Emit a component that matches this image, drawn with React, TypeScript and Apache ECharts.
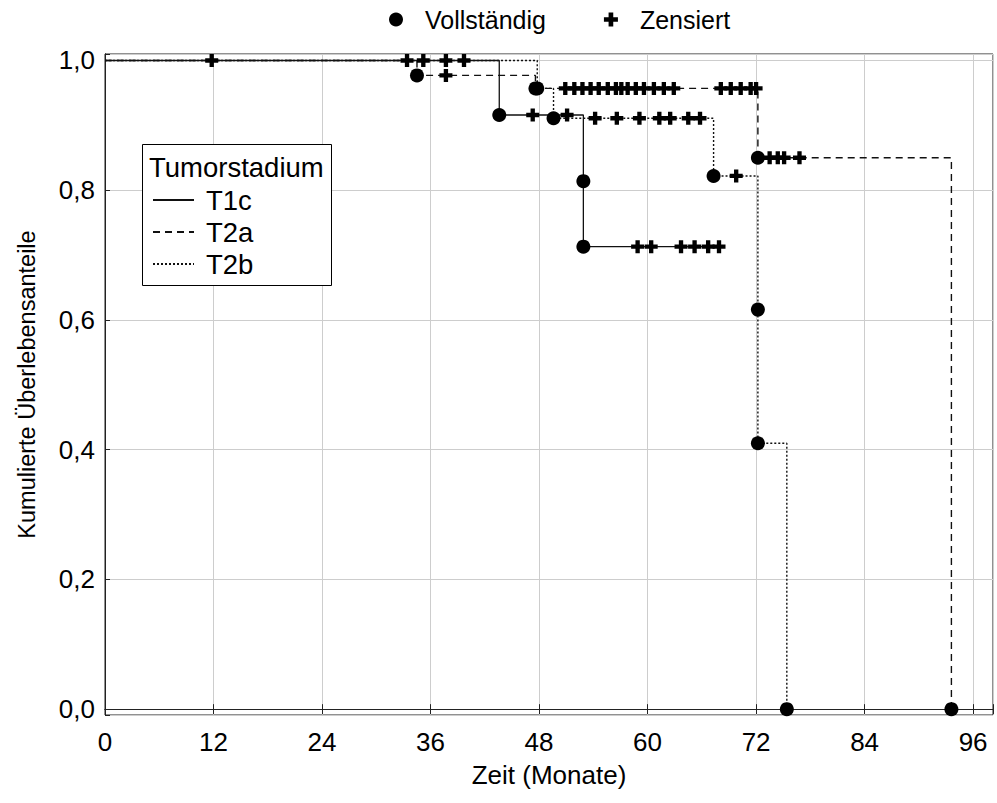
import React, { useEffect, useRef } from 'react';
import * as echarts from 'echarts';

// ---- Axis ticks ----
const xTicks = [0, 12, 24, 36, 48, 60, 72, 84, 96];
const xTickLabels = ['0', '12', '24', '36', '48', '60', '72', '84', '96'];
const yTicks = [0, 0.2, 0.4, 0.6, 0.8, 1.0];
const yTickLabels = ['0,0', '0,2', '0,4', '0,6', '0,8', '1,0'];

// ---- Groups ----
const groups = ['T1c', 'T2a', 'T2b'];
const legendTitle = 'Tumorstadium';
const markerNames = ['Vollständig', 'Zensiert'];

// ---- T1c (solid) ----
const t1cEventTimes = [43.6, 52.9, 52.9];
const t1cEventSurv = [0.916, 0.814, 0.713];
const t1cCensorTimes = [11.8, 33.4, 37.7, 47.3, 51.1, 58.9, 60.4, 63.7, 65.2, 66.7, 67.9];

// ---- T2a (dashed) ----
const t2aEventTimes = [34.5, 47.6, 72.2, 93.6];
const t2aEventSurv = [0.977, 0.957, 0.85, 0.0];
const t2aCensorTimes = [37.7, 50.9, 51.9, 52.8, 53.7, 54.6, 55.6, 56.5, 57.1, 57.8, 58.7, 59.6, 60.7, 61.8, 62.9, 68.1, 69.2, 70.3, 71.4, 72.0, 73.5, 74.4, 75.1, 76.8];

// ---- T2b (dotted) ----
const t2bEventTimes = [47.8, 49.6, 67.3, 72.2, 72.2, 75.4];
const t2bEventSurv = [0.957, 0.911, 0.822, 0.616, 0.41, 0.0];
const t2bCensorTimes = [35.2, 39.7, 54.2, 56.6, 59.1, 61.3, 62.5, 64.5, 65.8, 69.8];

const FONT = "'Liberation Sans', Arial, Helvetica, sans-serif";
const PLUS = 'path://M4,0H8V4H12V8H8V12H4V8H0V4H4Z';

function survAt(times: number[], surv: number[], t: number) {
  let s = 1;
  for (let i = 0; i < times.length; i++) if (times[i] <= t) s = surv[i];
  return s;
}

function stepData(times: number[], surv: number[], censor: number[]) {
  const d: number[][] = [[0, 1]];
  times.forEach((t, i) => d.push([t, surv[i]]));
  const lastC = Math.max(...censor);
  const lastE = times[times.length - 1];
  if (lastC > lastE) d.push([lastC, surv[surv.length - 1]]);
  return d;
}

function labelFor(ticks: number[], labels: string[], v: number) {
  for (let i = 0; i < ticks.length; i++) if (Math.abs(ticks[i] - v) < 1e-6) return labels[i];
  return '';
}

export default function App() {
  const ref = useRef<HTMLDivElement>(null);
  useEffect(() => {
    if (!ref.current) return;
    const chart = echarts.init(ref.current, null, { renderer: 'svg' });

    const data = [
      { name: 'T1c', times: t1cEventTimes, surv: t1cEventSurv, cens: t1cCensorTimes, line: { type: 'solid' as any, width: 1.3 } },
      { name: 'T2a', times: t2aEventTimes, surv: t2aEventSurv, cens: t2aCensorTimes, line: { type: [7, 5] as any, width: 1.4 } },
      { name: 'T2b', times: t2bEventTimes, surv: t2bEventSurv, cens: t2bCensorTimes, line: { type: [2, 2] as any, width: 1.4 } },
    ];

    const lineSeries = [...data].reverse().map((g) => ({
      type: 'line',
      name: g.name,
      step: 'end',
      symbol: 'none',
      showSymbol: false,
      silent: true,
      z: 2,
      lineStyle: { color: '#111', width: g.line.width, type: g.line.type },
      itemStyle: { color: '#111' },
      data: stepData(g.times, g.surv, g.cens),
    }));

    const eventSeries = data.map((g) => ({
      type: 'scatter',
      name: markerNames[0],
      symbol: 'circle',
      symbolSize: 14,
      silent: true,
      z: 4,
      itemStyle: { color: '#000', opacity: 1 },
      data: g.times.map((t, i) => [t, g.surv[i]]),
    }));

    const censorSeries = data.map((g) => ({
      type: 'scatter',
      name: markerNames[1],
      symbol: PLUS,
      symbolSize: 13,
      silent: true,
      z: 3,
      itemStyle: { color: '#000', opacity: 1 },
      data: g.cens.map((t) => [t, survAt(g.times, g.surv, t)]),
    }));

    const axisLineStyle = { color: '#222', width: 1 };

    chart.setOption({
      animation: false,
      textStyle: { fontFamily: FONT },
      grid: { left: 105, right: 4, top: 54, bottom: 88, show: true, borderColor: '#222', borderWidth: 1 },
      legend: [
        {
          data: markerNames,
          left: 389,
          top: 7,
          padding: 0,
          itemWidth: 28,
          itemHeight: 14,
          itemGap: 58,
          selectedMode: false,
          itemStyle: { opacity: 1 },
          textStyle: { fontSize: 25, color: '#000', fontFamily: FONT, padding: [0, 0, 0, 10] },
        },
        {
          data: groups,
          orient: 'vertical',
          left: 152,
          top: 186,
          padding: 0,
          itemWidth: 41,
          itemHeight: 14,
          itemGap: 4,
          selectedMode: false,
          z: 6,
          itemStyle: { opacity: 0 },
          textStyle: { fontSize: 27.5, color: '#000', fontFamily: FONT, padding: [0, 0, 0, 7] },
        },
      ],
      xAxis: [
        {
          type: 'value',
          min: 0,
          max: 98.2,
          interval: 12,
          position: 'bottom',
          name: 'Zeit (Monate)',
          nameLocation: 'middle',
          nameGap: 47,
          nameTextStyle: { fontSize: 26, color: '#000', fontFamily: FONT },
          axisLine: { show: true, lineStyle: axisLineStyle },
          axisTick: { show: true, inside: true, length: 5, lineStyle: axisLineStyle },
          axisLabel: { fontSize: 26, color: '#000', margin: 14, fontFamily: FONT, formatter: (v: number) => labelFor(xTicks, xTickLabels, v) },
          splitLine: { show: true, lineStyle: { color: '#cdcdcd', width: 1 } },
        },
        {
          type: 'value',
          min: 0,
          max: 98.2,
          interval: 12,
          position: 'top',
          axisLine: { show: true, lineStyle: axisLineStyle },
          axisTick: { show: true, inside: true, length: 5, lineStyle: axisLineStyle },
          axisLabel: { show: false },
          splitLine: { show: false },
        },
      ],
      yAxis: [
        {
          type: 'value',
          min: -0.009,
          max: 1.01,
          minInterval: 0.2,
          maxInterval: 0.2,
          splitNumber: 5,
          position: 'left',
          name: 'Kumulierte Überlebensanteile',
          nameLocation: 'middle',
          nameGap: 66,
          nameTextStyle: { fontSize: 23.5, color: '#000', fontFamily: FONT },
          axisLine: { show: true, lineStyle: axisLineStyle },
          axisTick: { show: true, inside: true, length: 5, lineStyle: axisLineStyle },
          axisLabel: { fontSize: 26, color: '#000', margin: 10, fontFamily: FONT, formatter: (v: number) => labelFor(yTicks, yTickLabels, v) },
          splitLine: { show: true, lineStyle: { color: '#cdcdcd', width: 1 } },
        },
        {
          type: 'value',
          min: -0.009,
          max: 1.01,
          minInterval: 0.2,
          maxInterval: 0.2,
          splitNumber: 5,
          position: 'right',
          axisLine: { show: true, lineStyle: axisLineStyle },
          axisTick: { show: false },
          axisLabel: { show: false },
          splitLine: { show: false },
        },
      ],
      graphic: [
        {
          type: 'rect',
          z: 5,
          shape: { x: 142.5, y: 144.5, width: 189, height: 141 },
          style: { fill: '#fff', stroke: '#000', lineWidth: 1 },
        },
        {
          type: 'text',
          z: 6,
          x: 149,
          y: 167,
          style: { text: legendTitle, fontSize: 27.5, fill: '#000', fontFamily: FONT, textVerticalAlign: 'middle', verticalAlign: 'middle' },
        },
      ],
      series: [...lineSeries, ...censorSeries, ...eventSeries],
    });
    return () => chart.dispose();
  }, []);
  return <div ref={ref} style={{ position: 'absolute', left: 0, top: 0, width: 997, height: 803 }} />;
}
